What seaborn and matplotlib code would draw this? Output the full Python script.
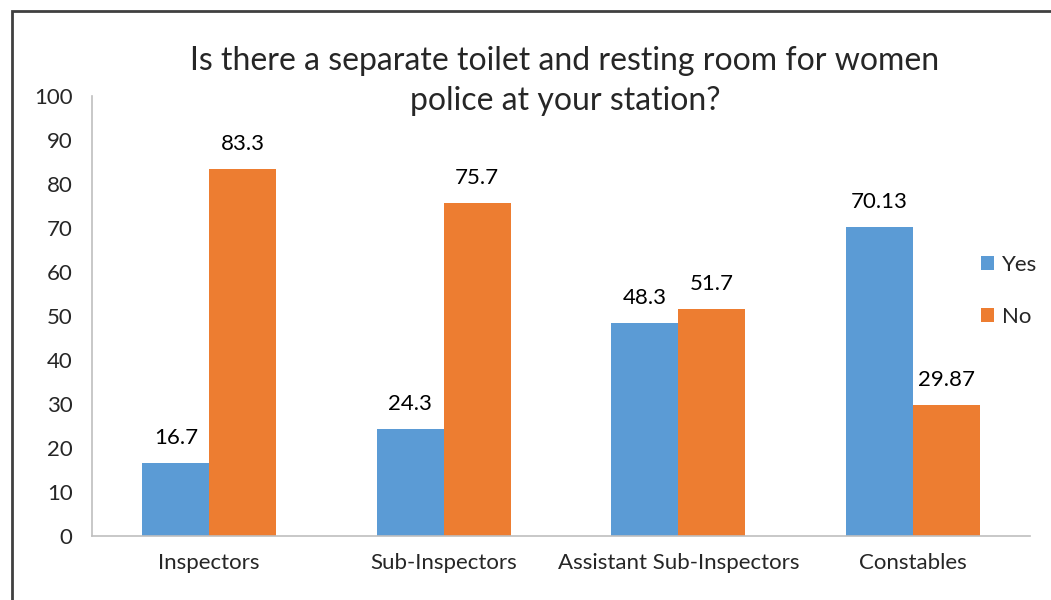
import pandas as pd
import matplotlib
matplotlib.use('Agg')
import matplotlib.pyplot as plt
import matplotlib.patches as patches
import seaborn as sns

# data
categories = ['Inspectors', 'Sub-Inspectors', 'Assistant Sub-Inspectors', 'Constables']
yes_values = [16.7, 24.3, 48.3, 70.13]
no_values = [83.3, 75.7, 51.7, 29.87]
series_names = ['Yes', 'No']
y_ticks = list(range(0, 101, 10))

df = pd.DataFrame({
    'Rank': categories * 2,
    'Percent': yes_values + no_values,
    'Answer': [series_names[0]] * 4 + [series_names[1]] * 4,
})

sns.set_style('white')
plt.rcParams['font.family'] = ['Lato', 'DejaVu Sans']

fig = plt.figure(figsize=(10.51, 6), dpi=100)
ax = fig.add_axes([92 / 1051, 1 - 536 / 600, (1030 - 92) / 1051, (536 - 96) / 600])

palette = {'Yes': '#5B9BD5', 'No': '#ED7D31'}
sns.barplot(data=df, x='Rank', y='Percent', hue='Answer', palette=palette,
            width=0.571, gap=0, saturation=1, linewidth=0, ax=ax, legend=True)

# value labels above bars
for cont in ax.containers:
    for bar in cont:
        h = bar.get_height()
        ax.annotate(('%g' % h), (bar.get_x() + bar.get_width() / 2, h),
                    xytext=(0, 18), textcoords='offset points',
                    ha='center', va='center', fontsize=16, color='black')

ax.set_ylim(0, 100)
ax.set_xlim(-0.5, 3.5)
ax.set_yticks(y_ticks)
ax.set_xlabel('')
ax.set_ylabel('')
ax.set_xticks([-0.5, 0.5, 1.5, 2.5, 3.5], minor=False, labels=[''] * 5)
ax.set_xticks(range(4), minor=True, labels=categories)
ax.tick_params(axis='x', which='minor', length=0, labelsize=16, pad=12)
ax.tick_params(axis='x', which='major', length=6, direction='out', color='#BFBFBF', width=1.2)
ax.tick_params(axis='y', length=5, direction='out', color='#BFBFBF', width=1.2, labelsize=16, pad=9)

for side in ['top', 'right']:
    ax.spines[side].set_visible(False)
for side in ['left', 'bottom']:
    ax.spines[side].set_color('#BFBFBF')
    ax.spines[side].set_linewidth(1.2)

ax.legend(title=None, loc='center left', bbox_to_anchor=(981 / 1051, 1 - 291 / 600),
          bbox_transform=fig.transFigure, frameon=False, fontsize=16,
          borderpad=0, borderaxespad=0,
          handlelength=0.6, handleheight=0.6, handletextpad=0.35, labelspacing=1.45)

fig.text(565 / 1051, 1 - 81 / 600,
         'Is there a separate toilet and resting room for women\npolice at your station?',
         ha='center', va='center', fontsize=23, linespacing=1.45)

# outer border (only left and top edges visible)
fig.patches.append(patches.Rectangle((12 / 1051, -0.1), 1.2, 1.1 - 11 / 600,
                                     transform=fig.transFigure, fill=False,
                                     edgecolor='#404040', linewidth=2))

fig.savefig('out.png', dpi=100, facecolor='white')
